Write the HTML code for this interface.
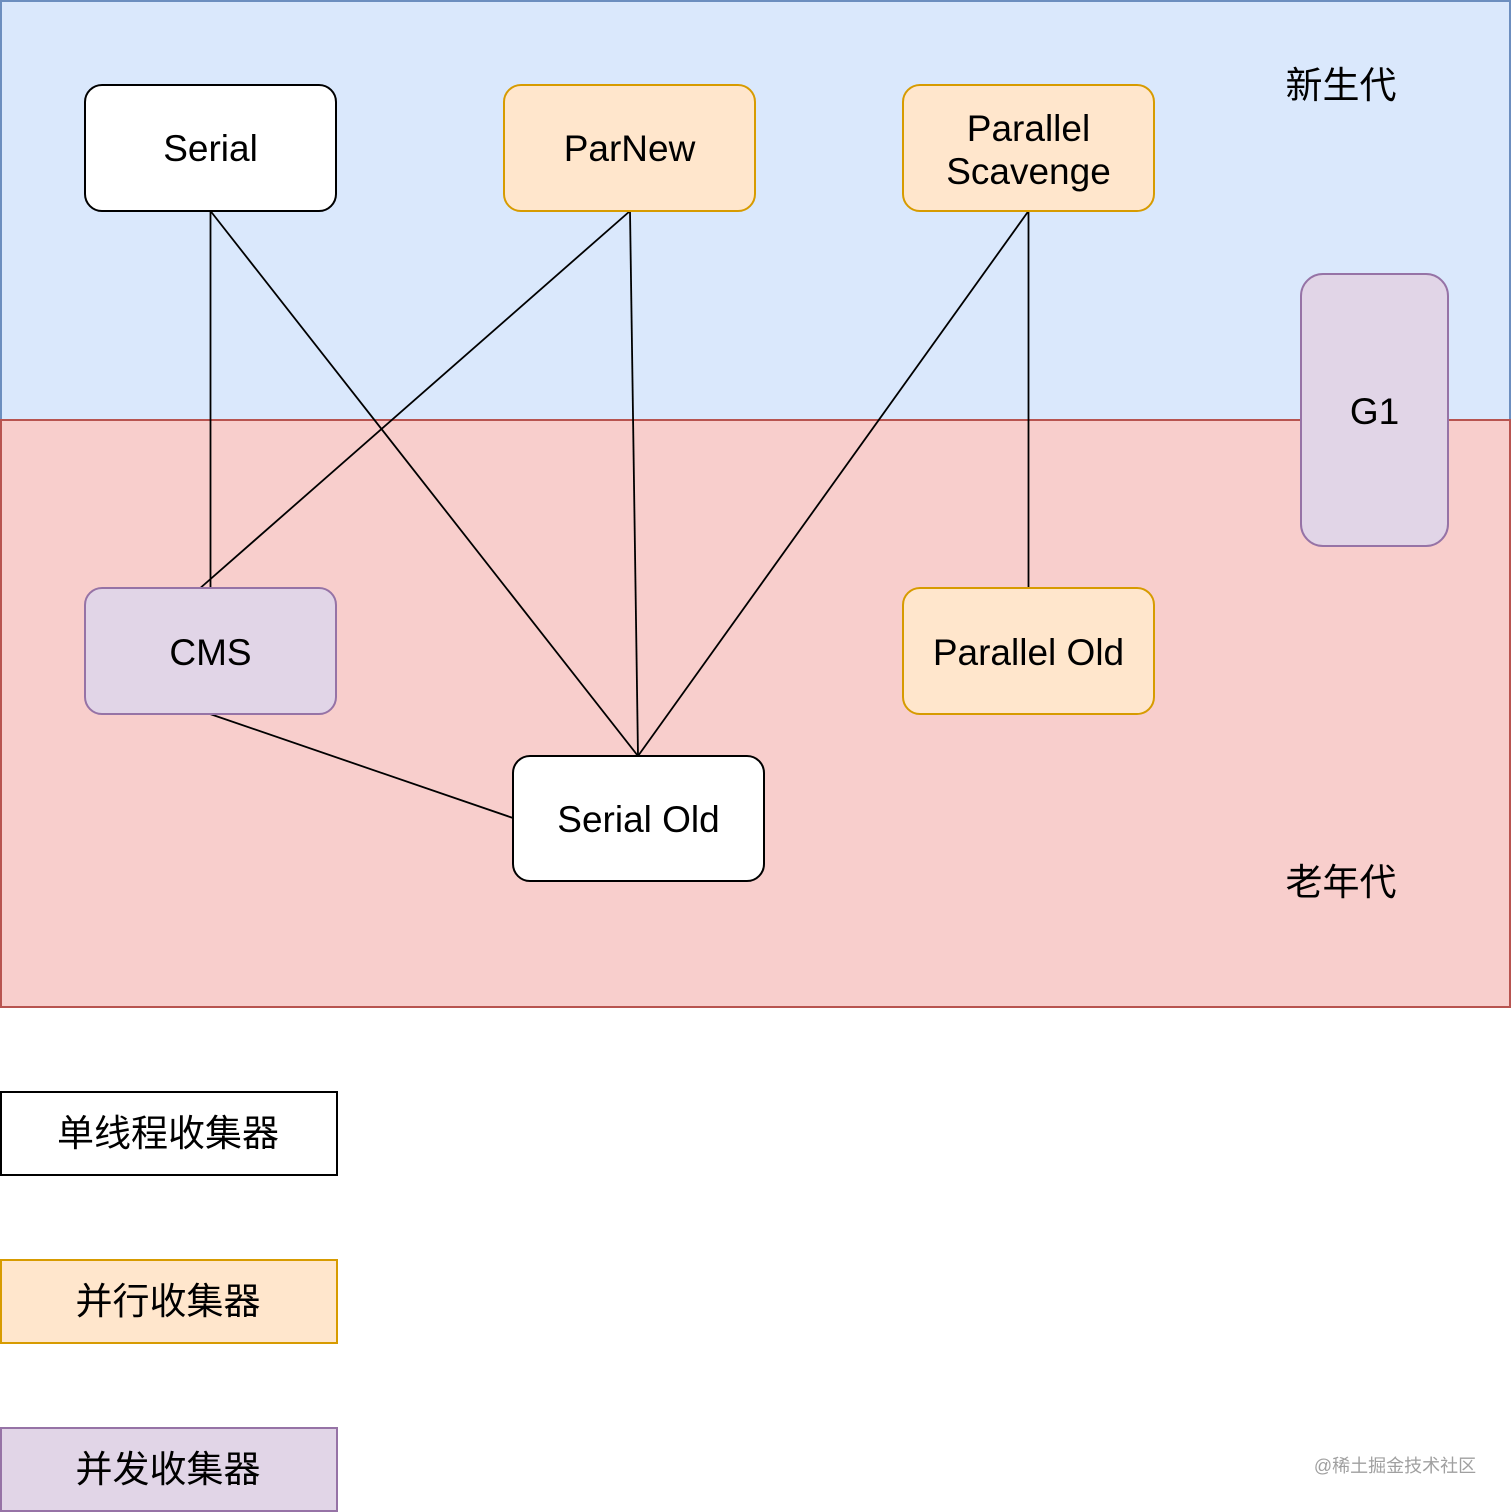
<!DOCTYPE html>
<html>
<head>
<meta charset="utf-8">
<style>
  html,body{margin:0;padding:0;background:#fff;}
  svg{display:block;}
  .t{font-family:"Liberation Sans","Noto Sans CJK SC",sans-serif;font-size:37px;fill:#000;}
  .c{font-family:"Liberation Sans","Noto Sans CJK SC",sans-serif;font-size:37px;fill:#000;}
</style>
</head>
<body>
<svg width="1512" height="1512" viewBox="0 0 1512 1512" xmlns="http://www.w3.org/2000/svg">
  <!-- regions -->
  <rect x="1" y="1" width="1509" height="419" fill="#dae8fc" stroke="#6c8ebf" stroke-width="2"/>
  <rect x="1" y="420" width="1509" height="587" fill="#f8cecc" stroke="#b85450" stroke-width="2"/>

  <!-- connectors -->
  <g stroke="#000" stroke-width="1.8" fill="none">
    <line x1="210.5" y1="211" x2="210.5" y2="588"/>
    <line x1="210.5" y1="211" x2="638" y2="756"/>
    <line x1="630" y1="211" x2="198" y2="590"/>
    <line x1="630" y1="211" x2="638" y2="756"/>
    <line x1="1028.5" y1="211" x2="638" y2="756"/>
    <line x1="1028.5" y1="211" x2="1028.5" y2="588"/>
    <line x1="210" y1="714" x2="513" y2="818"/>
  </g>

  <!-- nodes -->
  <rect x="85" y="85" width="251" height="126" rx="17" fill="#ffffff" stroke="#000" stroke-width="2"/>
  <text class="t" x="210.5" y="161" text-anchor="middle">Serial</text>

  <rect x="504" y="85" width="251" height="126" rx="17" fill="#ffe6cc" stroke="#d79b00" stroke-width="2"/>
  <text class="t" x="629.5" y="161" text-anchor="middle">ParNew</text>

  <rect x="903" y="85" width="251" height="126" rx="17" fill="#ffe6cc" stroke="#d79b00" stroke-width="2"/>
  <text class="t" x="1028.5" y="141" text-anchor="middle">Parallel</text>
  <text class="t" x="1028.5" y="184" text-anchor="middle">Scavenge</text>

  <rect x="1301" y="274" width="147" height="272" rx="22" fill="#e1d5e7" stroke="#9673a6" stroke-width="2"/>
  <text class="t" x="1374.5" y="424" text-anchor="middle">G1</text>

  <rect x="85" y="588" width="251" height="126" rx="17" fill="#e1d5e7" stroke="#9673a6" stroke-width="2"/>
  <text class="t" x="210.5" y="665" text-anchor="middle">CMS</text>

  <rect x="903" y="588" width="251" height="126" rx="17" fill="#ffe6cc" stroke="#d79b00" stroke-width="2"/>
  <text class="t" x="1028.5" y="665" text-anchor="middle">Parallel Old</text>

  <rect x="513" y="756" width="251" height="125" rx="17" fill="#ffffff" stroke="#000" stroke-width="2"/>
  <text class="t" x="638.5" y="832" text-anchor="middle">Serial Old</text>

  <!-- region labels -->
  <text class="c" x="1341" y="98" text-anchor="middle">新生代</text>
  <text class="c" x="1341" y="895" text-anchor="middle">老年代</text>

  <!-- legend -->
  <rect x="1" y="1092" width="336" height="83" fill="#ffffff" stroke="#000" stroke-width="2"/>
  <text class="c" x="168" y="1146" text-anchor="middle">单线程收集器</text>

  <rect x="1" y="1260" width="336" height="83" fill="#ffe6cc" stroke="#d79b00" stroke-width="2"/>
  <text class="c" x="168" y="1314" text-anchor="middle">并行收集器</text>

  <rect x="1" y="1428" width="336" height="83" fill="#e1d5e7" stroke="#9673a6" stroke-width="2"/>
  <text class="c" x="168" y="1482" text-anchor="middle">并发收集器</text>

  <!-- watermark -->
  <text x="1395" y="1472" text-anchor="middle" font-family="'Liberation Sans','Noto Sans CJK SC',sans-serif" font-size="18" fill="#a0a0a0">@稀土掘金技术社区</text>
</svg>
</body>
</html>
